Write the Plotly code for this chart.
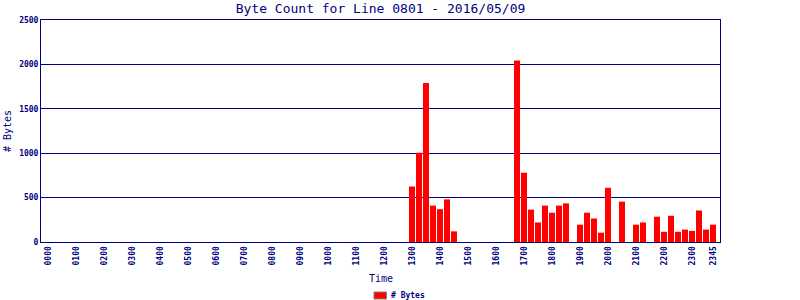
import plotly.graph_objects as go

times = [f"{h:02d}{m:02d}" for h in range(24) for m in (0, 15, 30, 45)]
byte_counts = [
    0, 0, 0, 0, 0, 0, 0, 0, 0, 0, 0, 0, 0, 0, 0, 0,
    0, 0, 0, 0, 0, 0, 0, 0, 0, 0, 0, 0, 0, 0, 0, 0,
    0, 0, 0, 0, 0, 0, 0, 0, 0, 0, 0, 0, 0, 0, 0, 0,
    0, 0, 0, 0, 625, 1005, 1790, 410, 370, 480, 120, 0, 0, 0, 0, 0,
    0, 0, 0, 2045, 780, 365, 220, 410, 330, 410, 435, 0, 195, 330, 265, 105,
    610, 0, 455, 0, 195, 220, 0, 285, 115, 295, 115, 140, 125, 355, 140, 195,
]
tick_labels = [f"{h:02d}00" for h in range(24)] + ["2345"]
y_ticks = [0, 500, 1000, 1500, 2000, 2500]

NAVY = "#000080"
FONT = "DejaVu Sans Mono"

fig = go.Figure()
fig.add_trace(go.Bar(x=times, y=byte_counts, marker=dict(color="#FF0000", line=dict(width=0)),
                     name="# Bytes", showlegend=False))

fig.update_layout(
    width=800, height=300,
    margin=dict(l=41, r=80, t=20, b=58),
    paper_bgcolor="white", plot_bgcolor="white",
    bargap=0.14,
    title=dict(text="Byte Count for Line 0801 - 2016/05/09", x=0.5, xref="paper",
               y=1 - 8 / 300, yanchor="middle", font=dict(family=FONT, size=13, color=NAVY)),
    xaxis=dict(type="category", range=[-1, 96], tickvals=tick_labels, ticktext=tick_labels,
               tickangle=-90, tickfont=dict(family=FONT, size=8, color=NAVY, weight="bold"),
               showgrid=False, showline=True, linecolor=NAVY, linewidth=1, mirror=True,
               ticks="", zeroline=False),
    yaxis=dict(range=[0, 2500], tickvals=y_ticks,
               tickfont=dict(family=FONT, size=8, color=NAVY, weight="bold"),
               showgrid=True, gridcolor=NAVY, gridwidth=1, showline=True, linecolor=NAVY,
               linewidth=1, mirror=True, ticks="", zeroline=False),
    annotations=[
        dict(text="# Bytes", xref="paper", yref="paper", x=-34 / 679, y=0.5, textangle=-90,
             showarrow=False, xanchor="center", yanchor="middle",
             font=dict(family=FONT, size=10, color=NAVY)),
        dict(text="Time", xref="paper", yref="paper", x=0.5, y=-36 / 222,
             showarrow=False, xanchor="center", yanchor="middle",
             font=dict(family=FONT, size=10, color=NAVY)),
        dict(text="# Bytes", xref="paper", yref="paper", x=(389 - 41) / 679, y=-53 / 222,
             showarrow=False, xanchor="left", yanchor="middle",
             font=dict(family=FONT, size=8, color=NAVY, weight="bold")),
    ],
    shapes=[
        dict(type="rect", xref="paper", yref="paper",
             x0=(374 - 41) / 679, x1=(386.5 - 41) / 679,
             y0=(242 - 299) / 222, y1=(242 - 292) / 222,
             fillcolor="#FF0000", line=dict(color="#808080", width=1)),
    ],
)

fig.write_html("out.html")
